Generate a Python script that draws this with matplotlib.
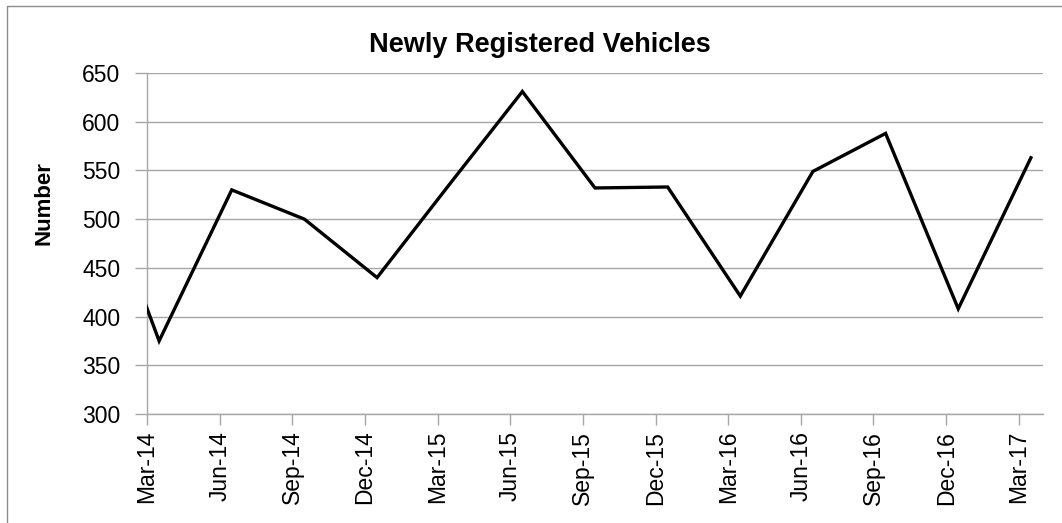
import numpy as np
import matplotlib.pyplot as plt
from matplotlib.patches import Rectangle

plt.rcParams['font.family'] = ['Liberation Sans', 'DejaVu Sans']

# quarterly values (first one lies before the axis start and is clipped)
quarters = ["Dec-13", "Mar-14", "Jun-14", "Sep-14", "Dec-14", "Mar-15", "Jun-15",
            "Sep-15", "Dec-15", "Mar-16", "Jun-16", "Sep-16", "Dec-16", "Mar-17"]
registrations = [576, 375, 530, 500, 440, 536, 631, 532, 533, 421, 549, 588, 408, 563]
tick_labels = quarters[1:]

# months since Mar-14, points sit mid-month
month_pos = np.arange(-3, 3 * (len(quarters) - 1), 3) + 0.5
tick_pos = np.arange(0, 3 * len(tick_labels), 3)

W, H = 1062, 523
fig = plt.figure(figsize=(W / 100, H / 100), dpi=100)
ax = fig.add_axes([147 / W, 1 - 414 / H, (1043 - 147) / W, (414 - 73) / H])

grey = '#a6a6a6'
ax.plot(month_pos, registrations, color='black', lw=2.4, solid_joinstyle='miter',
        clip_on=True, zorder=3)

ax.set_xlim(0, 37)
ax.set_ylim(300, 650)
ax.set_yticks(np.arange(300, 651, 50))
ax.set_xticks(tick_pos)
ax.set_xticklabels(tick_labels, rotation=90, fontsize=16.5)
ax.tick_params(axis='y', labelsize=16.5, length=9, width=1, color=grey, pad=10)
ax.tick_params(axis='x', length=8, width=1, color=grey, pad=4)

ax.yaxis.grid(True, color=grey, lw=1)
ax.set_axisbelow(True)
for side in ('top', 'right'):
    ax.spines[side].set_visible(False)
for side in ('left', 'bottom'):
    ax.spines[side].set_color(grey)
    ax.spines[side].set_linewidth(1)

fig.text(44 / W, 1 - 203 / H, "Number", fontsize=16, fontweight='bold',
         rotation=90, ha='center', va='center')
fig.text(540 / W, 1 - 45 / H, "Newly Registered Vehicles", fontsize=19.5,
         fontweight='bold', ha='center', va='center')

# outer chart frame
fig.patches.append(Rectangle((7 / W, -0.05), 1.2, 1 - 6 / H + 0.05,
                             transform=fig.transFigure, fill=False,
                             edgecolor='#8c8c8c', lw=1))

fig.savefig("out.png", dpi=100)
